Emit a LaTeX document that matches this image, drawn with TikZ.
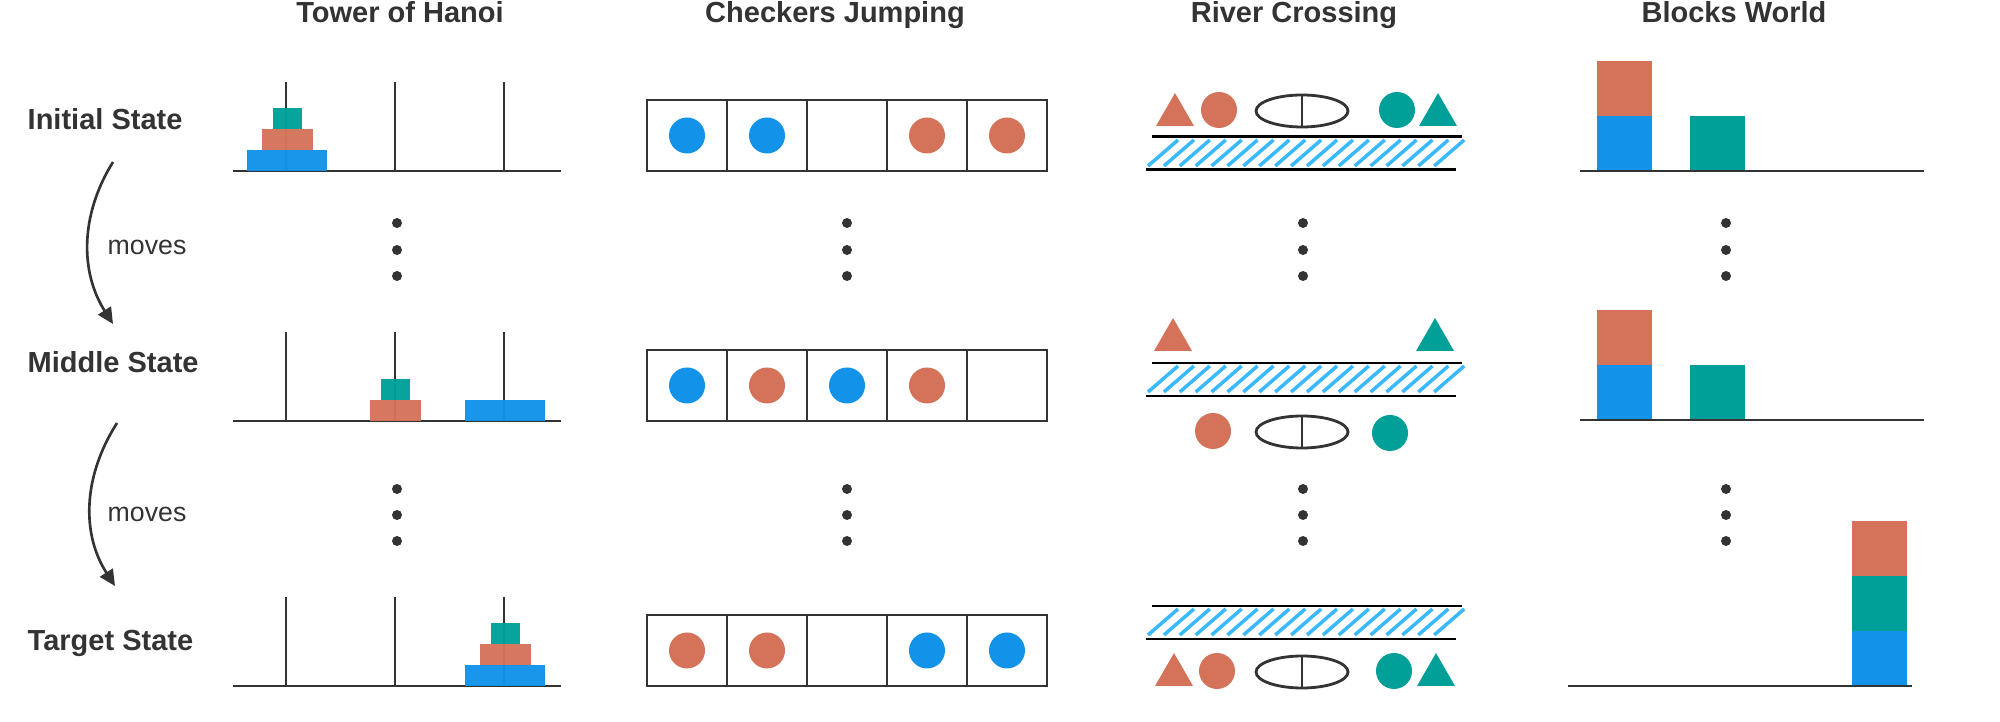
\documentclass[tikz,border=0pt]{standalone}
\usepackage{fontspec}
\setmainfont{Liberation Sans}
\usepackage{xcolor}
\usepackage{tikz}
\usetikzlibrary{arrows.meta}
\definecolor{dark}{HTML}{333333}
\definecolor{cblue}{HTML}{1292E8}
\definecolor{corange}{HTML}{D5735A}
\definecolor{cteal}{HTML}{00A099}
\definecolor{water}{HTML}{3BB9FF}
\tikzstyle{title} = [font=\fontsize{8.25}{10}\selectfont\bfseries,text=dark,anchor=base,inner sep=0pt]
\tikzstyle{state} = [font=\fontsize{8.25}{10}\selectfont\bfseries,text=dark,anchor=base west,inner sep=0pt]
\tikzstyle{moves} = [font=\fontsize{7.6}{9}\selectfont,text=dark,anchor=base west,inner sep=0pt]
\tikzstyle{arrow} = [line width=0.75pt,draw=dark,-{Triangle[length=1.6mm,width=1.5mm]}]
\tikzstyle{rod} = [draw=dark,line width=0.7pt]
\tikzstyle{cell} = [draw=dark,line width=0.7pt]
\tikzstyle{shore} = [draw=black,line width=0.85pt]
\tikzstyle{wave} = [draw=water,line width=1pt]
\tikzstyle{boat} = [draw=dark,line width=0.8pt]
% disk: x center, y bottom, half width, colour
\newcommand{\hanoidisk}[4]{\fill[#4,fill opacity=0.97] (#1-#3,#2) rectangle (#1+#3,#2-21);}
% block: x left, y bottom, colour
\newcommand{\worldblock}[3]{\fill[#3] (#1,#2) rectangle ++(55,-55);}
% river band: y of the upper bank
\newcommand{\riverband}[1]{%
	\draw[shore] (1152,#1) -- (1462,#1);
	\draw[shore] (1146,#1+33) -- (1456,#1+33);
	\foreach \k in {0,...,18}{%
		\draw[wave] (1148+15.9*\k,#1+29) -- ++(30,-26);
	}
}
% boat: x center, y center
\newcommand{\riverboat}[2]{%
	\draw[boat] (#1,#2) ellipse [x radius=46,y radius=16];
	\draw[boat] (#1,#2-16) -- (#1,#2+16);
}
% triangle: x center, y base, colour
\newcommand{\rivertri}[3]{\fill[#3] (#1-19,#2) -- (#1+19,#2) -- (#1,#2-33) -- cycle;}

\begin{document}
\begin{tikzpicture}[x=0.01cm,y=-0.01cm]
	\useasboundingbox (0,0) rectangle (2000,722);

	% Titles of the four puzzles:
	\node[title] (tHanoi)  at (400,23)  {Tower of Hanoi};
	\node[title] (tCheck)  at (835,23)  {Checkers Jumping};
	\node[title] (tRiver)  at (1294,23) {River Crossing};
	\node[title] (tBlocks) at (1734,23) {Blocks World};

	% Names of the states:
	\node[state] (lInit)   at (27,130) {Initial State};
	\node[state] (lMid)    at (27,373) {Middle State};
	\node[state] (lTarget) at (27,650) {Target State};

	% The curved arrows between the states:
	\node[moves] (mv1) at (107,255) {moves};
	\node[moves] (mv2) at (107,522) {moves};
	\coordinate (a1s) at (113,162);
	\coordinate (a1e) at (113,324);
	\coordinate (a2s) at (117,423);
	\coordinate (a2e) at (115,586);
	\draw[arrow] (a1s) .. controls (80,215) and (80,272) .. (a1e);
	\draw[arrow] (a2s) .. controls (82,478) and (82,535) .. (a2e);

	% Vertical dots between the rows:
	\foreach \x in {397,847,1303,1726}{%
		\foreach \y in {223,250,276,489,515,541}{%
			\fill[dark] (\x,\y) circle (5);
		}
	}

	% Tower of Hanoi:
	\foreach \b in {171,421,686}{%
		\draw[rod] (233,\b) -- (561,\b);
		\foreach \p in {286,395,504}
			\draw[rod] (\p,\b) -- (\p,\b-89);
	}
	\hanoidisk{287}{171}{40}{cblue}
	\hanoidisk{287}{150}{25.5}{corange}
	\hanoidisk{287}{129}{14.5}{cteal}
	\hanoidisk{395}{400}{14.5}{cteal}
	\hanoidisk{395}{421}{25.5}{corange}
	\hanoidisk{504.5}{421}{40}{cblue}
	\hanoidisk{505}{686}{40}{cblue}
	\hanoidisk{505}{665}{25.5}{corange}
	\hanoidisk{505}{644}{14.5}{cteal}

	% Checkers Jumping:
	\foreach \b/\row in {171/{cblue,cblue,white,corange,corange},
	                     421/{cblue,corange,cblue,corange,white},
	                     686/{corange,corange,white,cblue,cblue}}{%
		\foreach \c [count=\i from 0] in \row{%
			\draw[cell] (647+80*\i,\b-71) rectangle ++(80,71);
			\fill[\c] (687+80*\i,\b-35.5) circle (18);
		}
	}

	% River Crossing:
	\riverband{137}
	\rivertri{1175}{126}{corange}
	\fill[corange] (1219,110) circle (18);
	\riverboat{1302}{111}
	\fill[cteal] (1397,110) circle (18);
	\rivertri{1438}{126}{cteal}

	\riverband{363}
	\rivertri{1173}{351}{corange}
	\rivertri{1435}{351}{cteal}
	\fill[corange] (1213,431) circle (18);
	\riverboat{1302}{432}
	\fill[cteal] (1390,433) circle (18);

	\riverband{606}
	\rivertri{1174}{686}{corange}
	\fill[corange] (1217,671) circle (18);
	\riverboat{1302}{672}
	\fill[cteal] (1394,671) circle (18);
	\rivertri{1436}{686}{cteal}

	% Blocks World:
	\worldblock{1597}{171}{cblue}
	\worldblock{1597}{116}{corange}
	\worldblock{1690}{171}{cteal}
	\draw[rod] (1580,171) -- (1924,171);

	\worldblock{1597}{420}{cblue}
	\worldblock{1597}{365}{corange}
	\worldblock{1690}{420}{cteal}
	\draw[rod] (1580,420) -- (1924,420);

	\worldblock{1852}{686}{cblue}
	\worldblock{1852}{631}{cteal}
	\worldblock{1852}{576}{corange}
	\draw[rod] (1568,686) -- (1912,686);
\end{tikzpicture}
\end{document}
